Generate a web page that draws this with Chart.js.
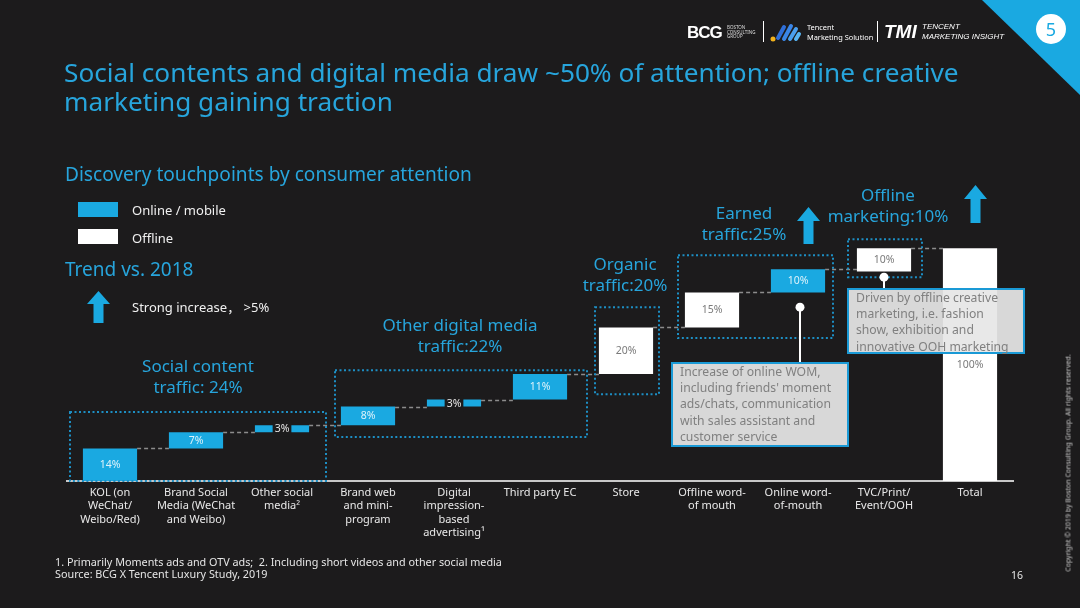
<!DOCTYPE html>
<html><head><meta charset="utf-8">
<script src="https://cdn.jsdelivr.net/npm/chart.js@4.4.1/dist/chart.umd.min.js"></script>
<style>
html,body{margin:0;padding:0;background:#1c1b1c;width:1080px;height:608px;overflow:hidden;font-family:'Noto Sans','Noto Sans CJK SC',sans-serif;}
canvas{position:absolute;left:0;top:0;}
.t{position:absolute;white-space:nowrap;}
.blue{color:#27a5dc;}
.grp{position:absolute;text-align:center;color:#27a5dc;font-size:17px;line-height:21px;white-space:nowrap;transform:translateX(-50%);}
.call{position:absolute;box-sizing:border-box;border:2px solid #1a9ad6;background:rgba(230,230,230,0.93);color:#808080;font-size:12.2px;line-height:16.2px;padding:0 0 0 7px;white-space:nowrap;}
</style></head>
<body>
<canvas id="c" width="1080" height="608"></canvas>

<!-- header -->
<svg class="t" style="left:0;top:0" width="1080" height="100">
  <polygon points="982,0 1080,0 1080,95" fill="#1aa9e1"/>
  <circle cx="1051" cy="29" r="15" fill="#ffffff"/>
  <line x1="763.5" y1="21" x2="763.5" y2="42" stroke="#ffffff" stroke-width="1"/>
  <line x1="877.5" y1="21" x2="877.5" y2="42" stroke="#ffffff" stroke-width="1"/>
  <g stroke-linecap="round" stroke-width="4">
    <line x1="778" y1="38" x2="784" y2="27" stroke="#2f6fd8"/>
    <line x1="784" y1="39" x2="791" y2="26" stroke="#3a86e8"/>
    <line x1="790" y1="39" x2="796" y2="29" stroke="#4aa0f0"/>
    <line x1="796" y1="39" x2="799" y2="34" stroke="#58b6f5"/>
  </g>
  <circle cx="773" cy="39" r="2.5" fill="#f2b21c"/>
</svg>
<div class="t" style="left:1043px;top:16px;width:16px;text-align:center;font-size:18px;line-height:26px;color:#1aa9e1;">5</div>
<div class="t" style="left:687px;top:22px;font-family:'Liberation Sans';font-weight:bold;font-size:17px;line-height:22px;color:#fff;letter-spacing:-1px;">BCG</div>
<div class="t" style="left:727px;top:25px;font-size:4.5px;line-height:4.6px;color:#ddd;">BOSTON<br>CONSULTING<br>GROUP</div>
<div class="t" style="left:807px;top:23px;font-size:7.4px;line-height:9.5px;color:#fff;">Tencent<br>Marketing Solution</div>
<div class="t" style="left:884px;top:20px;font-family:'Liberation Sans';font-weight:bold;font-style:italic;font-size:19px;line-height:24px;color:#fff;">TMI</div>
<div class="t" style="left:922px;top:22px;font-family:'Liberation Sans';font-style:italic;font-size:8px;line-height:9.5px;color:#fff;">TENCENT<br>MARKETING INSIGHT</div>

<!-- title -->
<div class="t blue" style="left:64px;top:58px;font-size:26.2px;line-height:29px;">Social contents and digital media draw ~50% of attention; offline creative<br>marketing gaining traction</div>
<div class="t blue" style="left:65px;top:162px;font-size:19.1px;line-height:24px;">Discovery touchpoints by consumer attention</div>

<!-- legend -->
<div class="t" style="left:78px;top:202px;width:40px;height:15px;background:#1aa9e1;"></div>
<div class="t" style="left:132px;top:201px;font-size:13px;line-height:18px;color:#f0f0f0;">Online / mobile</div>
<div class="t" style="left:78px;top:229px;width:40px;height:15px;background:#ffffff;"></div>
<div class="t" style="left:132px;top:229px;font-size:13px;line-height:18px;color:#f0f0f0;">Offline</div>
<div class="t blue" style="left:65px;top:257px;font-size:19px;line-height:24px;">Trend vs. 2018</div>
<svg class="t" style="left:87px;top:291px" width="23" height="32"><polygon points="11.5,0 23,13 16.5,13 16.5,32 6.5,32 6.5,13 0,13" fill="#1aa9e1"/></svg>
<div class="t" style="left:132px;top:298px;font-size:13px;line-height:18px;color:#f0f0f0;">Strong increase， &gt;5%</div>

<!-- group labels -->
<div class="grp" style="left:198px;top:355px;">Social content<br>traffic: 24%</div>
<div class="grp" style="left:460px;top:314px;">Other digital media<br>traffic:22%</div>
<div class="grp" style="left:625px;top:253px;">Organic<br>traffic:20%</div>
<div class="grp" style="left:744px;top:202px;">Earned<br>traffic:25%</div>
<div class="grp" style="left:888px;top:184px;">Offline<br>marketing:10%</div>
<svg class="t" style="left:797px;top:207px" width="23" height="37"><polygon points="11.5,0 23,14 16.5,14 16.5,37 6.5,37 6.5,14 0,14" fill="#1aa9e1"/></svg>
<svg class="t" style="left:964px;top:185px" width="23" height="38"><polygon points="11.5,0 23,14 16.5,14 16.5,38 6.5,38 6.5,14 0,14" fill="#1aa9e1"/></svg>

<!-- callouts -->
<div class="call" style="left:671px;top:362px;width:178px;height:85px;">Increase of online WOM,<br>including friends' moment<br>ads/chats, communication<br>with sales assistant and<br>customer service</div>
<div class="call" style="left:847px;top:288px;width:178px;height:66px;">Driven by offline creative<br>marketing, i.e. fashion<br>show, exhibition and<br>innovative OOH marketing</div>

<!-- footer -->
<div class="t" style="left:55px;top:556px;font-size:10.8px;line-height:12px;color:#e6e6e6;">1. Primarily Moments ads and OTV ads;&nbsp; 2. Including short videos and other social media<br>Source: BCG X Tencent Luxury Study, 2019</div>
<div class="t" style="left:1011px;top:568px;font-size:10.5px;line-height:14px;color:#e6e6e6;">16</div>
<div class="t" style="left:1068px;top:463px;font-size:7px;line-height:9px;color:#c8c8c8;transform:translate(-50%,-50%) rotate(-90deg);">Copyright © 2019 by Boston Consulting Group. All rights reserved.</div>

<script>
// ---------- data ----------
const categories = [
  ['KOL (on','WeChat/','Weibo/Red)'],
  ['Brand Social','Media (WeChat','and Weibo)'],
  ['Other social','media²'],
  ['Brand web','and mini-','program'],
  ['Digital','impression-','based','advertising¹'],
  ['Third party EC'],
  ['Store'],
  ['Offline word-','of mouth'],
  ['Online word-','of-mouth'],
  ['TVC/Print/','Event/OOH'],
  ['Total']
];
const shareValues = [14, 7, 3, 8, 3, 11, 20, 15, 10, 10, 100];
const channelTypes = ['online','online','online','online','online','online','offline','offline','online','offline','offline'];
const valueLabels = ['14%','7%','3%','8%','3%','11%','20%','15%','10%','10%','100%'];
const totalValue = 100;

// ---------- styling / layout ----------
const BLUE = '#1aa9e1', WHITE = '#ffffff', BG = '#1c1b1c';
const groupBoxes = [ // category span, pixel offsets, value range
  {from:0, to:2, dl:-40, dr:44, lo:0,    hi:29.6},
  {from:3, to:5, dl:-33, dr:47, lo:18.9, hi:47.6},
  {from:6, to:6, dl:-31, dr:33, lo:37.3, hi:74.7},
  {from:7, to:8, dl:-34, dr:35, lo:61.4, hi:97},
  {from:9, to:9, dl:-36, dr:38, lo:87.6, hi:103.9}
];
const pins = [ {cat:8, dx:2, vTop:74.7, vEnd:51.1}, {cat:9, dx:0, vTop:87.6, vEnd:82.8} ];

// waterfall ranges
let running = 0;
const ranges = shareValues.map((v, i) => {
  if (i === shareValues.length - 1) return [0, v];
  const hi = Math.min(running + v, totalValue);
  running = hi;
  return [hi - v, hi];
});

const overlay = {
  id: 'overlay',
  beforeDatasetsDraw(chart) {
    const ctx = chart.ctx, meta = chart.getDatasetMeta(0), y = chart.scales.y;
    ctx.save();
    ctx.strokeStyle = '#8c8c8c'; ctx.lineWidth = 1.5; ctx.setLineDash([4, 3]);
    for (let i = 0; i < ranges.length - 1; i++) {
      const a = meta.data[i], b = meta.data[i + 1];
      const py = Math.round(y.getPixelForValue(ranges[i][1])) + 0.5;
      ctx.beginPath(); ctx.moveTo(a.x + a.width / 2, py); ctx.lineTo(b.x - b.width / 2, py); ctx.stroke();
    }
    ctx.restore();
  },
  afterDatasetsDraw(chart) {
    const ctx = chart.ctx, meta = chart.getDatasetMeta(0), x = chart.scales.x, y = chart.scales.y;
    ctx.save();
    // dotted group frames
    ctx.strokeStyle = '#1d8fc4'; ctx.lineWidth = 2; ctx.setLineDash([2, 2.5]);
    groupBoxes.forEach(g => {
      const l = x.getPixelForValue(g.from) + g.dl, r = x.getPixelForValue(g.to) + g.dr;
      const t = y.getPixelForValue(g.hi), b = y.getPixelForValue(g.lo);
      ctx.strokeRect(l, t, r - l, b - t);
    });
    ctx.setLineDash([]);
    // value labels
    ctx.font = '10.5px "Noto Sans"'; ctx.textAlign = 'center'; ctx.textBaseline = 'middle';
    meta.data.forEach((bar, i) => {
      const cy = (bar.y + bar.base) / 2;
      const txt = valueLabels[i];
      if (shareValues[i] < 5) {
        const w = ctx.measureText(txt).width + 4;
        ctx.fillStyle = BG; ctx.fillRect(bar.x - w / 2, cy - 8, w, 16);
        ctx.fillStyle = '#e6e6e6';
      } else {
        ctx.fillStyle = channelTypes[i] === 'online' ? 'rgba(255,255,255,0.85)' : '#7a7a7a';
      }
      ctx.fillText(txt, bar.x, cy + 0.5);
    });
    // pins
    ctx.strokeStyle = '#ffffff'; ctx.fillStyle = '#ffffff'; ctx.lineWidth = 2;
    pins.forEach(p => {
      const px = x.getPixelForValue(p.cat) + p.dx;
      const t = y.getPixelForValue(p.vTop), e = y.getPixelForValue(p.vEnd);
      ctx.beginPath(); ctx.moveTo(px, t); ctx.lineTo(px, e); ctx.stroke();
      ctx.beginPath(); ctx.arc(px, t, 4.5, 0, Math.PI * 2); ctx.fill();
    });
    ctx.restore();
  }
};

new Chart(document.getElementById('c'), {
  type: 'bar',
  data: {
    labels: categories,
    datasets: [{
      data: ranges,
      backgroundColor: channelTypes.map(t => t === 'online' ? BLUE : WHITE),
      borderWidth: 0,
      barPercentage: 0.63,
      categoryPercentage: 1
    }]
  },
  options: {
    responsive: false,
    devicePixelRatio: 1,
    animation: false,
    layout: { padding: { left: 67, right: 67, top: 225, bottom: 47 } },
    plugins: { legend: { display: false }, tooltip: { enabled: false } },
    scales: {
      x: {
        grid: { display: false, drawTicks: false },
        border: { display: true, color: '#c8c8c8', width: 2 },
        ticks: { color: '#e8e8e8', font: { family: 'Noto Sans', size: 11, lineHeight: 1.22 }, padding: 5, maxRotation: 0, autoSkip: false },
        afterFit: s => { s.height = 80; }
      },
      y: { display: false, min: 0, max: 110 }
    }
  },
  plugins: [overlay]
});
</script>
</body></html>
